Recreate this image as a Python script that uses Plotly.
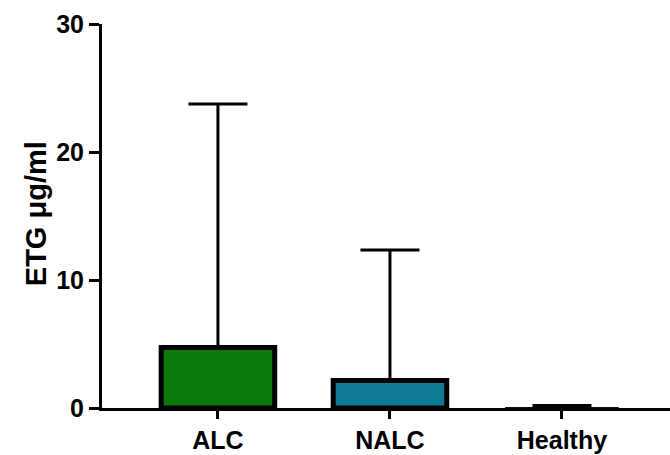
import plotly.graph_objects as go

# Group means and upper error (SD) of ETG concentration
groups = ["ALC", "NALC", "Healthy"]
means = [4.72, 2.15, 0.05]
errors = [19.03, 10.2, 0.15]
colors = ["#0a7a0a", "#0e7b94", "#111111"]
border_widths = [5, 5, 0]

y_ticks = [0, 10, 20, 30]

font_family = "Liberation Sans, Arial, sans-serif"

fig = go.Figure()
fig.add_trace(go.Bar(
    x=groups,
    y=means,
    width=0.66,
    marker=dict(color=colors, line=dict(color="black", width=border_widths)),
    error_y=dict(
        type="data",
        symmetric=False,
        array=errors,
        arrayminus=[0, 0, 0],
        color="black",
        thickness=3,
        width=29.5,
    ),
))

fig.update_layout(
    width=670,
    height=455,
    margin=dict(l=102, r=0, t=24, b=47),
    paper_bgcolor="white",
    plot_bgcolor="white",
    showlegend=False,
    font=dict(family=font_family, color="black"),
    xaxis=dict(
        range=[-0.674, 2.628],
        showline=True,
        linecolor="black",
        linewidth=3,
        ticks="outside",
        ticklen=8,
        tickwidth=3,
        tickcolor="black",
        tickfont=dict(size=25, family=font_family, weight="bold"),
        showgrid=False,
        zeroline=False,
        fixedrange=True,
    ),
    yaxis=dict(
        range=[0, 30],
        tickvals=y_ticks,
        showline=True,
        linecolor="black",
        linewidth=3,
        ticks="outside",
        ticklen=10,
        tickwidth=3,
        tickcolor="black",
        tickfont=dict(size=25, family=font_family, weight="bold"),
        showgrid=False,
        zeroline=False,
        fixedrange=True,
    ),
    annotations=[dict(
        text="ETG μg/ml",
        textangle=-90,
        xref="paper",
        yref="paper",
        x=-0.116,
        y=0.505,
        xanchor="center",
        yanchor="middle",
        showarrow=False,
        font=dict(size=29, family=font_family, weight="bold", color="black"),
    )],
)

fig.write_html("out.html")
